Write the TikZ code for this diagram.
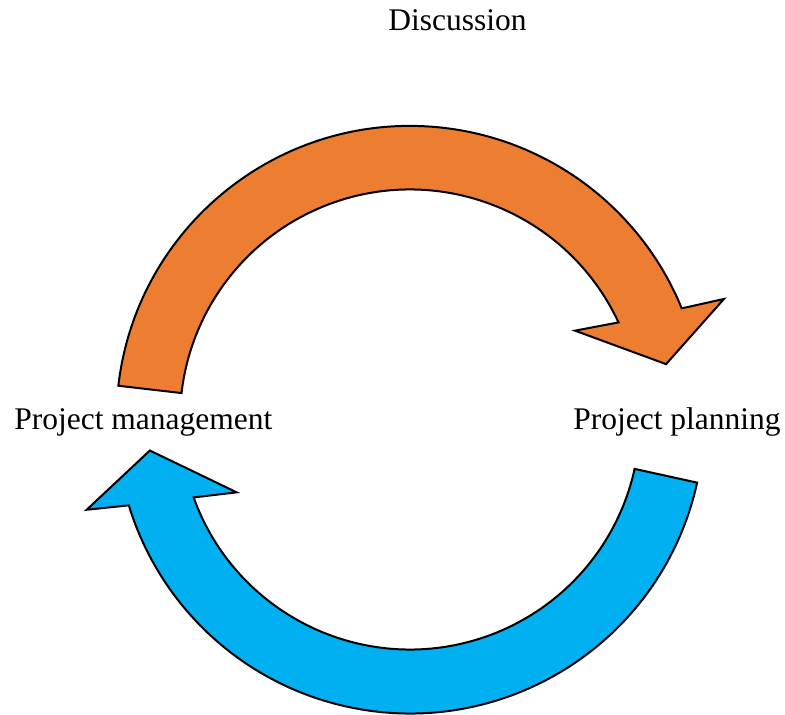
\documentclass[tikz,border=0pt]{standalone}
\usepackage{fontspec}
\setmainfont{Liberation Serif}
\usetikzlibrary{positioning}
\definecolor{planorange}{HTML}{ED7D31}
\definecolor{manageblue}{HTML}{00B0F0}

\begin{document}
\begin{tikzpicture}[
  x=1pt,y=1pt,
  lbl/.style={font=\fontsize{31.5}{38}\selectfont,anchor=base,inner sep=0pt},
  band/.style={draw=black,line width=2pt,line join=miter}
]
\useasboundingbox (-410,-295.5) rectangle (375,419.5);
\node[lbl] (disc) at (47.5,388.5) {Discussion};
\node[lbl] (mgmt) at (-266.7,-10.5) {Project management};
\node[lbl] (plan) at (267,-10.5) {Project planning};
% upper arrow
\draw[band,fill=planorange] (173.4:293.6pt)
  arc[start angle=173.4,end angle=22.25,radius=293.6pt]
  -- (21:336.3pt) -- (12.2:262pt) -- (28.3:187.4pt) -- (24.97:230pt)
  arc[start angle=24.97,end angle=173.4,radius=230pt] -- cycle;
% lower arrow
\draw[band,fill=manageblue] (-12.4:294pt)
  arc[start angle=-12.4,end angle=-163.02,radius=294pt]
  -- (195.6:335.7pt) -- (186.8:262pt) -- (202.8:188pt) -- (199.8:230pt)
  arc[start angle=199.8,end angle=347.6,radius=230pt] -- cycle;
\end{tikzpicture}
\end{document}
